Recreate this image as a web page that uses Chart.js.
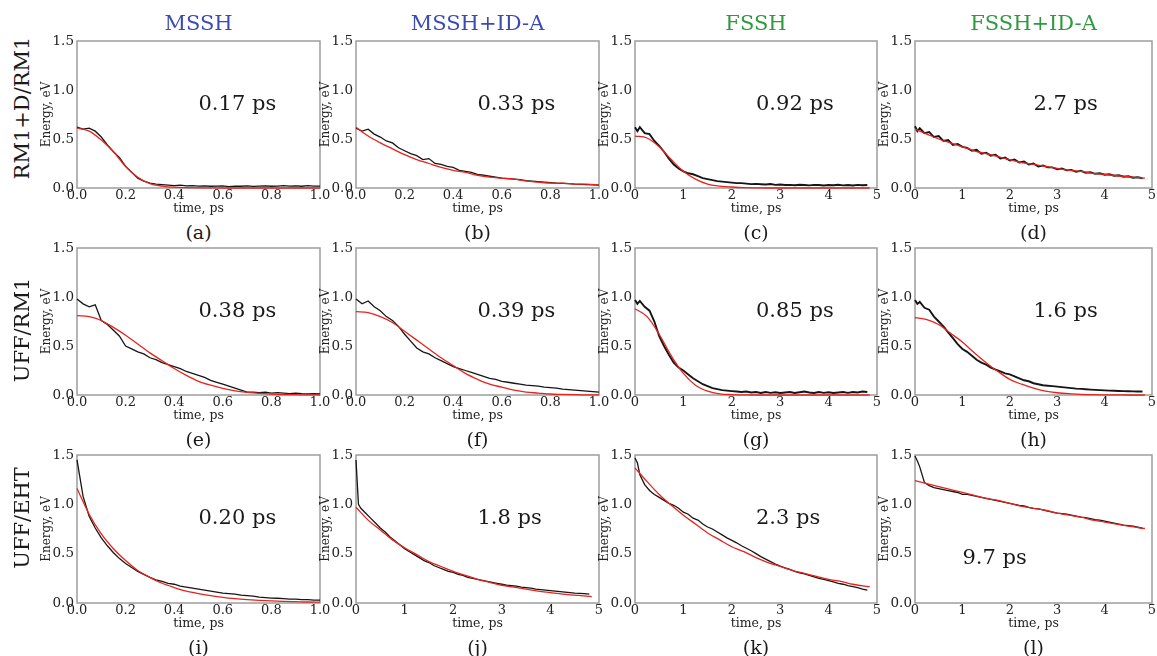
<!DOCTYPE html>
<html><head><meta charset="utf-8">
<script src="https://cdn.jsdelivr.net/npm/chart.js@4"></script>
<style>
body{margin:0;background:#fff;width:1157px;height:656px;position:relative;overflow:hidden;font-family:'DejaVu Serif',serif;color:#1a1a1a}
.lbl{position:absolute;transform:translate(-50%,-50%);white-space:nowrap;line-height:1}
.rot{transform:translate(-50%,-50%) rotate(-90deg)}
canvas{position:absolute}
</style></head><body>
<script>
// ---- data ----
const columnTitles = ['MSSH','MSSH+ID-A','FSSH','FSSH+ID-A'];
const rowTitles = ['RM1+D/RM1','UFF/RM1','UFF/EHT'];
const panelLetters = ['(a)','(b)','(c)','(d)','(e)','(f)','(g)','(h)','(i)','(j)','(k)','(l)'];
const tauLabels = ['0.17 ps','0.33 ps','0.92 ps','2.7 ps','0.38 ps','0.39 ps','0.85 ps','1.6 ps','0.20 ps','1.8 ps','2.3 ps','9.7 ps'];
const yTicks = [0, 0.5, 1.0, 1.5];

const tFast = [0,0.025,0.05,0.075,0.1,0.125,0.15,0.175,0.2,0.225,0.25,0.275,0.3,0.325,0.35,0.375,0.4,0.425,0.45,0.475,0.5,0.525,0.55,0.575,0.6,0.625,0.65,0.675,0.7,0.725,0.75,0.775,0.8,0.825,0.85,0.875,0.9,0.925,0.95,0.975,1.0];
const tFastFit = [0,0.05,0.1,0.15,0.2,0.25,0.3,0.35,0.4,0.45,0.5,0.55,0.6,0.65,0.7,0.75,0.8,0.85,0.9,0.95,1.0];
const tSlow = [0,0.05,0.1,0.2,0.3,0.4,0.5,0.6,0.7,0.8,0.9,1.0,1.1,1.2,1.3,1.4,1.5,1.6,1.7,1.8,1.9,2.0,2.1,2.2,2.3,2.4,2.5,2.6,2.7,2.8,2.9,3.0,3.1,3.2,3.3,3.4,3.5,3.6,3.7,3.8,3.9,4.0,4.1,4.2,4.3,4.4,4.5,4.6,4.7,4.8];
const tSlowFit = [0,0.25,0.5,0.75,1.0,1.25,1.5,1.75,2.0,2.25,2.5,2.75,3.0,3.25,3.5,3.75,4.0,4.25,4.5,4.75,4.85];

const blackA = [0.62,0.60,0.61,0.58,0.52,0.44,0.37,0.31,0.22,0.16,0.10,0.07,0.05,0.04,0.035,0.03,0.025,0.03,0.022,0.025,0.02,0.022,0.018,0.02,0.022,0.015,0.02,0.018,0.022,0.017,0.02,0.022,0.018,0.02,0.025,0.02,0.022,0.018,0.025,0.02,0.02];
const redA = [0.61,0.58,0.49,0.37,0.22,0.11,0.045,0.02,0.008,0.004,0.002,0.001,0,0,0,0,0,0,0,0,0];
const blackB = [0.61,0.58,0.60,0.55,0.52,0.48,0.46,0.41,0.38,0.35,0.33,0.29,0.30,0.25,0.24,0.22,0.21,0.18,0.17,0.16,0.14,0.13,0.12,0.11,0.10,0.095,0.09,0.085,0.075,0.07,0.065,0.06,0.055,0.05,0.048,0.045,0.04,0.038,0.035,0.032,0.03];
const redB = [0.62,0.53,0.46,0.40,0.34,0.29,0.25,0.21,0.18,0.16,0.13,0.11,0.10,0.09,0.07,0.06,0.05,0.05,0.04,0.04,0.03];
const blackC = [0.62,0.58,0.62,0.56,0.55,0.48,0.43,0.37,0.30,0.24,0.20,0.17,0.15,0.14,0.12,0.10,0.09,0.08,0.07,0.065,0.06,0.055,0.05,0.05,0.045,0.04,0.042,0.038,0.035,0.04,0.032,0.035,0.03,0.032,0.028,0.033,0.03,0.027,0.032,0.03,0.026,0.03,0.028,0.033,0.027,0.03,0.025,0.032,0.028,0.03];
const redC = [0.53,0.51,0.42,0.29,0.17,0.09,0.04,0.02,0.01,0.003,0.001,0,0,0,0,0,0,0,0,0,0];
const blackD = [0.63,0.58,0.61,0.56,0.57,0.52,0.53,0.48,0.49,0.44,0.45,0.42,0.41,0.38,0.39,0.35,0.36,0.33,0.34,0.30,0.31,0.28,0.29,0.26,0.27,0.24,0.25,0.22,0.23,0.21,0.21,0.19,0.20,0.18,0.185,0.165,0.175,0.155,0.16,0.145,0.15,0.135,0.14,0.125,0.13,0.115,0.12,0.105,0.11,0.10];
const redD = [0.60,0.55,0.50,0.46,0.42,0.38,0.35,0.32,0.29,0.26,0.24,0.22,0.20,0.18,0.17,0.15,0.14,0.125,0.115,0.105,0.10];
const blackE = [0.98,0.93,0.90,0.92,0.76,0.72,0.66,0.60,0.50,0.47,0.44,0.42,0.38,0.36,0.33,0.31,0.29,0.27,0.24,0.22,0.20,0.18,0.15,0.13,0.11,0.09,0.07,0.05,0.03,0.03,0.025,0.03,0.02,0.025,0.02,0.015,0.02,0.015,0.012,0.015,0.012];
const redE = [0.81,0.80,0.76,0.69,0.61,0.52,0.43,0.35,0.27,0.20,0.14,0.10,0.067,0.043,0.027,0.016,0.009,0.005,0.003,0.001,0];
const blackF = [0.98,0.93,0.96,0.90,0.86,0.80,0.76,0.70,0.62,0.55,0.48,0.44,0.42,0.38,0.35,0.32,0.29,0.27,0.25,0.23,0.21,0.19,0.17,0.16,0.14,0.13,0.12,0.11,0.10,0.095,0.09,0.08,0.075,0.07,0.06,0.055,0.05,0.045,0.04,0.035,0.03];
const redF = [0.85,0.84,0.80,0.74,0.65,0.56,0.47,0.38,0.30,0.22,0.16,0.11,0.08,0.05,0.03,0.02,0.01,0.006,0.003,0.002,0.001];
const blackG = [0.97,0.93,0.96,0.90,0.86,0.75,0.60,0.50,0.41,0.33,0.28,0.25,0.21,0.17,0.14,0.11,0.09,0.07,0.06,0.05,0.045,0.04,0.035,0.03,0.035,0.025,0.03,0.02,0.03,0.022,0.028,0.02,0.025,0.03,0.02,0.028,0.035,0.025,0.02,0.03,0.022,0.028,0.02,0.025,0.03,0.022,0.03,0.025,0.035,0.03];
const redG = [0.88,0.80,0.62,0.40,0.22,0.10,0.04,0.012,0.004,0.001,0,0,0,0,0,0,0,0,0,0,0];
const blackH = [0.97,0.93,0.95,0.89,0.87,0.80,0.75,0.70,0.64,0.58,0.52,0.47,0.44,0.40,0.36,0.33,0.31,0.28,0.26,0.24,0.22,0.21,0.19,0.17,0.15,0.14,0.12,0.11,0.10,0.095,0.09,0.085,0.08,0.075,0.07,0.065,0.062,0.058,0.055,0.052,0.05,0.047,0.045,0.043,0.041,0.04,0.038,0.037,0.036,0.035];
const redH = [0.79,0.77,0.72,0.63,0.54,0.43,0.33,0.24,0.16,0.11,0.07,0.04,0.023,0.013,0.007,0.003,0.002,0.001,0,0,0];
const blackI = [1.45,1.08,0.88,0.76,0.66,0.58,0.51,0.45,0.40,0.36,0.32,0.29,0.26,0.235,0.22,0.20,0.19,0.17,0.16,0.15,0.14,0.13,0.12,0.11,0.10,0.095,0.09,0.08,0.075,0.07,0.06,0.055,0.05,0.048,0.045,0.04,0.04,0.035,0.035,0.03,0.03];
const redI = [1.16,0.90,0.70,0.55,0.43,0.33,0.26,0.20,0.157,0.12,0.095,0.075,0.058,0.045,0.035,0.027,0.021,0.016,0.013,0.01,0.008];
const blackJ = [1.45,1.00,0.96,0.91,0.86,0.81,0.76,0.72,0.67,0.63,0.59,0.55,0.52,0.49,0.46,0.43,0.41,0.38,0.36,0.34,0.32,0.31,0.29,0.28,0.26,0.25,0.24,0.23,0.22,0.21,0.20,0.19,0.18,0.175,0.17,0.16,0.155,0.15,0.14,0.135,0.13,0.125,0.12,0.115,0.11,0.105,0.10,0.098,0.095,0.09];
const redJ = [0.97,0.84,0.74,0.64,0.56,0.49,0.42,0.37,0.32,0.28,0.24,0.21,0.18,0.16,0.14,0.12,0.105,0.09,0.08,0.07,0.065];
const blackK = [1.47,1.42,1.30,1.20,1.14,1.10,1.07,1.04,1.01,0.99,0.96,0.92,0.90,0.86,0.84,0.80,0.77,0.75,0.72,0.69,0.66,0.635,0.61,0.58,0.555,0.53,0.50,0.47,0.445,0.42,0.395,0.373,0.355,0.34,0.32,0.305,0.295,0.28,0.265,0.25,0.24,0.227,0.215,0.20,0.19,0.175,0.165,0.155,0.14,0.13];
const redK = [1.37,1.23,1.10,0.99,0.89,0.80,0.71,0.64,0.57,0.52,0.46,0.41,0.37,0.33,0.30,0.27,0.24,0.22,0.19,0.17,0.165];
const blackL = [1.49,1.44,1.38,1.22,1.19,1.17,1.16,1.15,1.14,1.13,1.12,1.10,1.10,1.09,1.08,1.07,1.06,1.05,1.04,1.03,1.02,1.01,1.00,0.99,0.985,0.97,0.96,0.955,0.945,0.93,0.92,0.91,0.905,0.90,0.89,0.88,0.87,0.865,0.855,0.845,0.84,0.83,0.82,0.81,0.80,0.79,0.785,0.78,0.77,0.76];
const redL = [1.24,1.21,1.18,1.15,1.12,1.09,1.06,1.04,1.01,0.98,0.96,0.94,0.91,0.89,0.87,0.84,0.82,0.80,0.78,0.76,0.755];

// ---- layout / style ----
const colLeft=[77,356,635,915], colRight=[320,599,877,1152];
const rowTop=[41,248,455], rowBottom=[188,395,603];
const rowLabelY=[108,330,518];
const titleColors=['#3c4bb4','#3c4bb4','#2e9a3e','#2e9a3e'];
const AXW=40, AXH=30, PADT=12, PADR=16;
const SERIF="'DejaVu Serif', serif";

const panels=[
 {row:0,col:0,fast:true, black:blackA,red:redA,noisy:false},
 {row:0,col:1,fast:true, black:blackB,red:redB,noisy:false},
 {row:0,col:2,fast:false,black:blackC,red:redC,noisy:true},
 {row:0,col:3,fast:false,black:blackD,red:redD,noisy:true},
 {row:1,col:0,fast:true, black:blackE,red:redE,noisy:false},
 {row:1,col:1,fast:true, black:blackF,red:redF,noisy:false},
 {row:1,col:2,fast:false,black:blackG,red:redG,noisy:true},
 {row:1,col:3,fast:false,black:blackH,red:redH,noisy:true},
 {row:2,col:0,fast:true, black:blackI,red:redI,noisy:false},
 {row:2,col:1,fast:false,black:blackJ,red:redJ,noisy:false},
 {row:2,col:2,fast:false,black:blackK,red:redK,noisy:false},
 {row:2,col:3,fast:false,black:blackL,red:redL,noisy:false,annX:1.0,annY:0.4}
];

function pairs(ts,vs){return ts.map((t,i)=>({x:t,y:vs[i]}));}
function addLabel(text,x,y,size,color,rot){
  const d=document.createElement('div');
  d.className='lbl'+(rot?' rot':'');
  d.textContent=text;
  d.style.left=x+'px';d.style.top=y+'px';d.style.fontSize=size+'px';
  if(color)d.style.color=color;
  document.body.appendChild(d);
}

const framePlugin={id:'frame',beforeDatasetsDraw(chart){
  const a=chart.chartArea,c=chart.ctx;c.save();c.strokeStyle='#9d9d9d';c.lineWidth=1.5;
  c.strokeRect(a.left,a.top,a.right-a.left,a.bottom-a.top);c.restore();}};
const annotPlugin={id:'annot',afterDatasetsDraw(chart,args,opts){
  const c=chart.ctx;c.save();c.font='21px '+SERIF;c.fillStyle='#1a1a1a';c.textAlign='left';c.textBaseline='alphabetic';
  c.fillText(opts.text,chart.scales.x.getPixelForValue(opts.x),chart.scales.y.getPixelForValue(opts.y));c.restore();}};

panels.forEach((p,idx)=>{
  const W=colRight[p.col]-colLeft[p.col], H=rowBottom[p.row]-rowTop[p.row];
  const cv=document.createElement('canvas');
  cv.width=W+AXW+PADR; cv.height=H+PADT+AXH;
  cv.style.left=(colLeft[p.col]-AXW)+'px'; cv.style.top=(rowTop[p.row]-PADT)+'px';
  document.body.appendChild(cv);
  const xmax=p.fast?1:5;
  new Chart(cv,{type:'line',
    data:{datasets:[
      {data:pairs(p.fast?tFastFit:tSlowFit,p.red),borderColor:'#e8231d',borderWidth:1.3,pointRadius:0,cubicInterpolationMode:'monotone',clip:3},
      {data:pairs(p.fast?tFast:tSlow,p.black),borderColor:'#151515',borderWidth:p.noisy?1.9:1.3,pointRadius:0,tension:0,clip:3}
    ]},
    options:{responsive:false,animation:false,events:[],
      layout:{padding:{top:PADT,right:PADR,left:0,bottom:0}},
      plugins:{legend:{display:false},tooltip:{enabled:false},
        annot:{text:tauLabels[idx],x:p.annX!==undefined?p.annX:xmax/2,y:p.annY!==undefined?p.annY:0.8}},
      scales:{
        x:{type:'linear',min:0,max:xmax,afterFit:s=>{s.height=AXH;},
          grid:{display:false,drawTicks:false},border:{display:false},
          ticks:{stepSize:p.fast?0.2:1,autoSkip:false,maxRotation:0,padding:0,color:'#222',font:{family:SERIF,size:13},
            callback:v=>p.fast?Number(v).toFixed(1):String(Math.round(v))},
          title:{display:true,text:'time, ps',color:'#222',font:{family:SERIF,size:12.5},padding:{top:0,bottom:2}}},
        y:{type:'linear',min:0,max:1.5,afterFit:s=>{s.width=AXW;},
          afterBuildTicks:s=>{s.ticks=yTicks.map(v=>({value:v}));},
          grid:{display:false,drawTicks:false},border:{display:false},
          ticks:{padding:3,color:'#222',font:{family:SERIF,size:13.5},callback:v=>Number(v).toFixed(1)},
          title:{display:true,text:'Energy, eV',color:'#222',font:{family:SERIF,size:12},padding:{top:3,bottom:0}}}
      }},
    plugins:[framePlugin,annotPlugin]
  });
  addLabel(panelLetters[idx],(colLeft[p.col]+colRight[p.col])/2,rowBottom[p.row]+44,19);
});

columnTitles.forEach((t,i)=>addLabel(t,(colLeft[i]+colRight[i])/2,23,21,titleColors[i]));
rowTitles.forEach((t,i)=>addLabel(t,22,rowLabelY[i],21,null,true));
</script>
</body></html>
